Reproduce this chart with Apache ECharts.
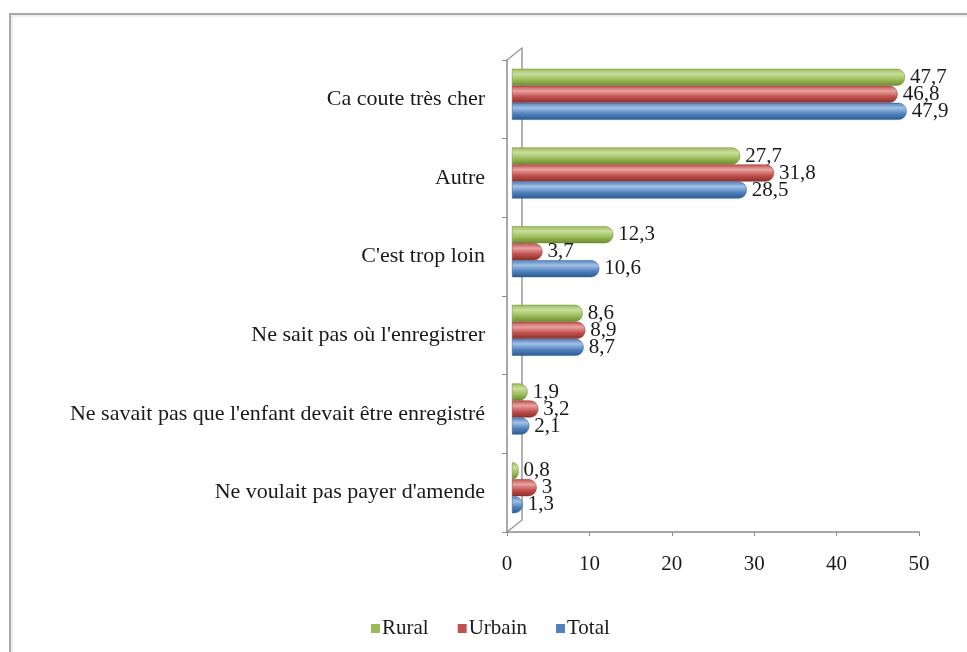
<!DOCTYPE html>
<html>
<head>
<meta charset="utf-8">
<script src="https://cdn.jsdelivr.net/npm/echarts@6/dist/echarts.min.js"></script>
<style>
  html, body { margin: 0; padding: 0; background: #fff; }
  #chart { width: 967px; height: 652px; }
  #frame {
    position: absolute; left: 9px; top: 13px; width: 1000px; height: 700px;
    border-left: 2px solid #a9a9a9; border-top: 2px solid #a9a9a9;
    box-shadow: inset 2px 2px 2px rgba(0,0,0,0.08);
    pointer-events: none;
  }
</style>
</head>
<body>
<div id="frame"></div>
<div id="chart"></div>
<script>
// catégories (de haut en bas)
const categories = [
    "Ca coute très cher",
    "Autre",
    "C'est trop loin",
    "Ne sait pas où l'enregistrer",
    "Ne savait pas que l'enfant devait être enregistré",
    "Ne voulait pas payer d'amende"
];
const rural = [47.7, 27.7, 12.3, 8.6, 1.9, 0.8];
const urbain = [46.8, 31.8, 3.7, 8.9, 3.2, 3];
const total = [47.9, 28.5, 10.6, 8.7, 2.1, 1.3];
const xTicks = [0, 10, 20, 30, 40, 50];

const FONT = "'Liberation Serif', 'Times New Roman', serif";

// couleurs : clair, moyen, foncé
const colRural = ['#c9df9c', '#9bbb59', '#6a8a2e'];
const colUrbain = ['#e8a3a1', '#c0504d', '#8c2e2b'];
const colTotal = ['#a3c0e6', '#4f81bd', '#2c5a8f'];

// cylindre : dégradé vertical
function cyl(c) {
    return new echarts.graphic.LinearGradient(0, 0, 0, 1, [
        {offset: 0, color: c[1]},
        {offset: 0.3, color: c[0]},
        {offset: 0.65, color: c[1]},
        {offset: 1, color: c[2]}
    ]);
}

function barSeries(name, data, c) {
    return {
        name: name,
        type: 'bar',
        xAxisIndex: 0,
        yAxisIndex: 0,
        data: data,
        barWidth: 17,
        barGap: '0%',
        itemStyle: {
            color: cyl(c),
            borderRadius: [0, 8, 8, 0],
            borderColor: c[2],
            borderWidth: 0.5
        },
        label: {
            show: true,
            position: 'right',
            distance: 5,
            color: '#1a1a1a',
            fontFamily: FONT,
            fontSize: 21,
            formatter: p => String(p.value).replace('.', ',')
        }
    };
}

const chart = echarts.init(document.getElementById('chart'));

const grids = [
    {left: 512, top: 55, width: 412, height: 472},  // barres
    {left: 507, top: 60, width: 412, height: 472},  // axes avant
    {left: 522, top: 48, width: 412, height: 472}   // paroi arrière
];

function legendItem(name, c) {
    return {name: name, itemStyle: {color: c[1], borderWidth: 0}};
}

chart.setOption({
    animation: false,
    grid: grids,
    legend: {
        bottom: 8,
        left: 366,
        data: [
            legendItem('Rural', colRural),
            legendItem('Urbain', colUrbain),
            legendItem('Total', colTotal)
        ],
        icon: 'rect',
        itemWidth: 9,
        itemHeight: 9,
        itemGap: 29,
        itemStyle: {borderWidth: 0},
        textStyle: {fontFamily: FONT, fontSize: 21, color: '#1a1a1a', padding: [0, 0, 0, -3]}
    },
    xAxis: [
        {gridIndex: 0, type: 'value', min: 0, max: 50, interval: 10, show: false},
        {
            gridIndex: 1, type: 'value', min: 0, max: 50, interval: 10,
            axisLine: {show: true, lineStyle: {color: '#8c8c8c', width: 1.5}},
            axisTick: {show: true, length: 4, lineStyle: {color: '#8c8c8c'}},
            splitLine: {show: false},
            axisLabel: {
                margin: 22, color: '#1a1a1a', fontFamily: FONT, fontSize: 21,
                formatter: v => xTicks.includes(v) ? String(v) : ''
            }
        },
        {gridIndex: 2, type: 'value', min: 0, max: 50, interval: 10, show: false}
    ],
    yAxis: [
        {gridIndex: 0, type: 'category', inverse: true, data: categories, show: false},
        {
            gridIndex: 1, type: 'category', inverse: true, data: categories,
            axisLine: {show: true, lineStyle: {color: '#8c8c8c', width: 1.5}},
            axisTick: {show: true, length: 5, lineStyle: {color: '#8c8c8c'}},
            axisLabel: {margin: 22, color: '#1a1a1a', fontFamily: FONT, fontSize: 22}
        },
        {
            gridIndex: 2, type: 'category', inverse: true, data: categories,
            axisLine: {show: true, lineStyle: {color: '#9a9a9a', width: 1.5}},
            axisTick: {show: false},
            axisLabel: {show: false}
        }
    ],
    graphic: [
        {type: 'line', shape: {x1: 507, y1: 60, x2: 522, y2: 48}, style: {stroke: '#9a9a9a', lineWidth: 1.5}},
        {type: 'line', shape: {x1: 507, y1: 532, x2: 522, y2: 520}, style: {stroke: '#9a9a9a', lineWidth: 1.5}}
    ],
    series: [
        barSeries('Rural', rural, colRural),
        barSeries('Urbain', urbain, colUrbain),
        barSeries('Total', total, colTotal)
    ]
});
</script>
</body>
</html>
